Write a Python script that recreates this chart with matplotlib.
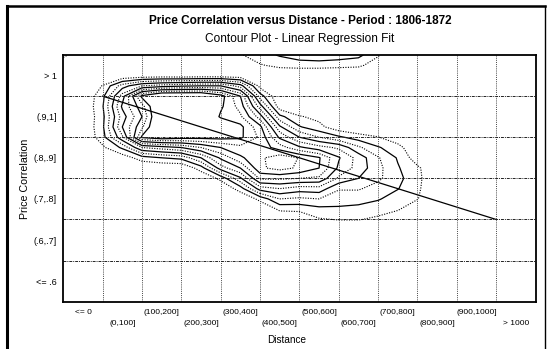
import matplotlib
matplotlib.use("Agg")
import matplotlib.pyplot as plt
import numpy as np
from matplotlib.lines import Line2D

plt.rcParams['font.family'] = ['Liberation Sans', 'DejaVu Sans']

# category labels
x_labels = ["<= 0", "(0,100]", "(100,200]", "(200,300]", "(300,400]", "(400,500]",
            "(500,600]", "(600,700]", "(700,800]", "(800,900]", "(900,1000]", "> 1000"]
y_labels = ["<= .6", "(.6,.7]", "(.7,.8]", "(.8,.9]", "(.9,1]", "> 1"]

# smoothed frequency surface (rows from top = 1.1 down to 0.675)
dist_grid = [-100, -50, 0, 50, 100, 150, 200, 250, 300, 350, 400,
             450, 500, 550, 600, 650, 700, 750, 800, 850, 900]
corr_grid = [1.1, 1.075, 1.05, 1.025, 1.0, 0.975, 0.95, 0.925, 0.9,
             0.875, 0.85, 0.825, 0.8, 0.775, 0.75, 0.725, 0.7, 0.675]
density = [
    [1.3, 0, 0, 0, 0, 0, 0, 0, 0, 0.9, 1.6, 2.1, 2.6, 2.8, 2.6, 2.3, 1.1, 0, 0, 0, 0],
    [0, 0, 0, 0, 0, 0, 0, 0, 0, 0.3, 0.9, 1.3, 1.4, 1.4, 1.3, 1.2, 0.5, 0, 0, 0, 0],
    [0, 0, 0, 0, 0.2, 0.3, 0.2, 0.3, 0.3, 0.2, 0, 0, 0, 0, 0, 0, 0, 0, 0, 0, 0],
    [0, 0, 1.05, 3.5, 5.0, 5.5, 5.8, 6.0, 6.0, 4.5, 0.6, 0, 0, 0, 0, 0, 0, 0, 0, 0, 0],
    [0, 0, 1.7, 5.5, 10.3, 12, 12, 12, 10.5, 8.0, 2.5, 0, 0, 0, 0, 0, 0, 0, 0, 0, 0],
    [0, 0, 1.9, 6.2, 8.6, 12, 12, 12, 10.2, 8.6, 4.5, 0.4, 0, 0, 0, 0, 0, 0, 0, 0, 0],
    [0, 0, 1.7, 5.5, 8.0, 12, 12, 12, 9.8, 9.2, 6.5, 2.3, 1.1, 0.7, 0, 0, 0, 0, 0, 0, 0],
    [0, 0, 1.8, 6.0, 8.8, 12, 12, 12, 11.5, 10.3, 8.3, 4.2, 2.1, 1.3, 0.3, 0, 0, 0, 0, 0, 0],
    [0, 0, 1.6, 4.8, 10.2, 10.8, 10.5, 10.4, 10.4, 10.2, 8.8, 5.8, 4.0, 3.0, 2.2, 1.5, 1.05, 0.3, 0, 0, 0],
    [0, 0, 0.8, 2.2, 5.0, 5.5, 6.0, 7.0, 8.0, 8.7, 8.6, 7.5, 6.2, 5.4, 4.8, 3.2, 2.1, 1.4, 0, 0, 0],
    [0, 0, 0, 0.4, 1.5, 2.0, 2.3, 4.0, 6.2, 7.8, 8.8, 9.6, 8.95, 8.1, 6.1, 4.6, 3.1, 1.9, 0.4, 0, 0],
    [0, 0, 0, 0, 0, 0, 0, 1.5, 4.5, 6.0, 8.8, 9.4, 8.8, 8.0, 5.8, 4.6, 3.3, 2.1, 1.2, 0, 0],
    [0, 0, 0, 0, 0, 0, 0, 0, 1.3, 3.8, 7.2, 7.2, 7.0, 6.8, 4.8, 4.0, 3.2, 2.3, 1.3, 0, 0],
    [0, 0, 0, 0, 0, 0, 0, 0, 0, 1.5, 4.5, 5.0, 4.5, 4.6, 3.1, 3.1, 2.6, 2.05, 1.2, 0, 0],
    [0, 0, 0, 0, 0, 0, 0, 0, 0, 0, 1.3, 3.0, 2.8, 3.0, 2.4, 2.4, 2.1, 1.5, 1.05, 0, 0],
    [0, 0, 0, 0, 0, 0, 0, 0, 0, 0, 0, 1.2, 1.3, 1.7, 1.85, 1.7, 1.4, 1.1, 0.3, 0, 0],
    [0, 0, 0, 0, 0, 0, 0, 0, 0, 0, 0, 0, 0, 0.9, 1.05, 1.05, 0.8, 0.3, 0, 0, 0],
    [0, 0, 0, 0, 0, 0, 0, 0, 0, 0, 0, 0, 0, 0, 0, 0, 0, 0, 0, 0, 0],
]
levels = [1, 2, 3, 4, 5, 6, 7, 8, 9, 10]

# linear regression fit
fit_intercept = 1.0
fit_slope = -0.0003
fit_range = [0, 1000]

fig = plt.figure(figsize=(5.47, 3.49), dpi=100)
ax = fig.add_axes([0.1157, 0.1355, 0.979 - 0.1157, 0.8424 - 0.1355])

X = np.array(dist_grid)
Y = np.array(corr_grid)[::-1]
Z = np.array(density)[::-1]
styles = [(0, (1, 1.3)) if i % 2 == 0 else 'solid' for i in range(len(levels))]
widths = [0.8 if i % 2 == 0 else 0.9 for i in range(len(levels))]
ax.contour(X, Y, Z, levels=levels, colors='black', linestyles=styles, linewidths=widths)

fx = np.array(fit_range)
ax.plot(fx, fit_intercept + fit_slope * fx, color='black', lw=0.9)

# category boundaries
for xb in range(0, 1001, 100):
    ax.axvline(xb, color='#444444', lw=0.7, ls=(0, (1, 1.2)))
for yb in [0.6, 0.7, 0.8, 0.9, 1.0]:
    ax.axhline(yb, color='#222222', lw=0.7, ls=(0, (3, 1, 1, 1)))

ax.set_xlim(-100, 1100)
ax.set_ylim(0.5, 1.1)

xc = [-50 + 100 * i for i in range(len(x_labels))]
ax.set_xticks(xc[0::2], labels=x_labels[0::2])
ax.set_xticks(xc[1::2], labels=x_labels[1::2], minor=True)
ax.tick_params(axis='x', which='major', length=0, pad=5, labelsize=6)
ax.tick_params(axis='x', which='minor', length=0, pad=13, labelsize=6)
yc = [0.55 + 0.1 * i for i in range(len(y_labels))]
ax.set_yticks(yc, labels=y_labels)
ax.tick_params(axis='y', length=0, pad=4.5, labelsize=6.5)
for s in ax.spines.values():
    s.set_linewidth(1.3)

ax.set_xlabel("Distance", fontsize=7.2)
ax.xaxis.set_label_coords((287 - 63.3) / 472.2, -33.5 / 246.7)
ax.set_ylabel("Price Correlation", fontsize=7.7)
ax.yaxis.set_label_coords(-(63.3 - 30) / 472.2, 0.5)

fig.text(300 / 547, 1 - 21 / 349, "Price Correlation versus Distance - Period : 1806-1872",
         ha='center', va='center', fontsize=8.5, fontweight='bold')
fig.text(300 / 547, 1 - 39 / 349, "Contour Plot - Linear Regression Fit",
         ha='center', va='center', fontsize=8.6)

# outer frame
fig.add_artist(Line2D([7 / 547, 7 / 547], [0, 1 - 6 / 349], color='black', lw=2.2))
fig.add_artist(Line2D([7 / 547, 545 / 547], [1 - 6 / 349, 1 - 6 / 349], color='black', lw=1.8))
fig.add_artist(Line2D([545 / 547, 545 / 547], [0, 1 - 6 / 349], color='black', lw=1.0))

fig.savefig("out.png", dpi=100)
